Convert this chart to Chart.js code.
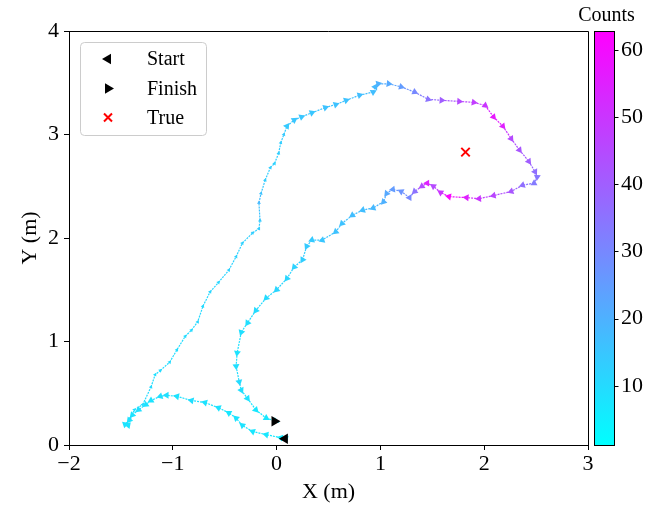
<!DOCTYPE html>
<html>
<head>
<meta charset="utf-8">
<script src="https://cdn.jsdelivr.net/npm/chart.js@4.4.0/dist/chart.umd.min.js"></script>
<style>
  html, body { margin: 0; padding: 0; background: #fff; }
  canvas { display: block; }
</style>
</head>
<body>
<canvas id="trackChart" width="651" height="505"></canvas>
<script>
// Walked track (metres) and the count recorded at each sample
const pathX = [0.09, 0.04, -0.10, -0.23, -0.33, -0.39, -0.46, -0.56, -0.69, -0.82,
  -0.96, -1.06, -1.12, -1.21, -1.26, -1.33, -1.39, -1.42, -1.46, -1.43,
  -1.41, -1.37, -1.29, -1.21, -1.17, -1.12, -1.03, -0.96, -0.88, -0.82,
  -0.76, -0.71, -0.64, -0.56, -0.46, -0.39, -0.33, -0.23, -0.17, -0.16,
  -0.17, -0.15, -0.11, -0.06, -0.02, 0.02, 0.04, 0.07, 0.10, 0.17,
  0.24, 0.34, 0.47, 0.57, 0.67, 0.80, 0.93, 0.95, 0.98, 1.08,
  1.20, 1.33, 1.46, 1.59, 1.76, 1.90, 2.01, 2.09, 2.18, 2.26,
  2.34, 2.43, 2.49, 2.51, 2.48, 2.37, 2.26, 2.09, 1.95, 1.83,
  1.66, 1.58, 1.51, 1.45, 1.40, 1.33, 1.28, 1.20, 1.12, 1.06,
  1.03, 0.93, 0.83, 0.73, 0.63, 0.57, 0.44, 0.34, 0.29, 0.25,
  0.17, 0.10, 0.00, -0.10, -0.20, -0.28, -0.34, -0.38, -0.39, -0.36,
  -0.34, -0.28, -0.20, -0.10, -0.01];
const pathY = [0.06, 0.07, 0.10, 0.13, 0.19, 0.26, 0.31, 0.36, 0.41, 0.43,
  0.47, 0.48, 0.47, 0.43, 0.39, 0.34, 0.29, 0.24, 0.20, 0.19,
  0.26, 0.34, 0.39, 0.56, 0.68, 0.72, 0.80, 0.92, 1.05, 1.11,
  1.19, 1.34, 1.48, 1.57, 1.69, 1.82, 1.95, 2.05, 2.09, 2.17,
  2.34, 2.43, 2.56, 2.68, 2.72, 2.82, 2.92, 3.00, 3.08, 3.14,
  3.17, 3.21, 3.26, 3.29, 3.33, 3.38, 3.41, 3.46, 3.49, 3.49,
  3.46, 3.41, 3.34, 3.33, 3.32, 3.31, 3.28, 3.17, 3.08, 2.96,
  2.85, 2.74, 2.64, 2.59, 2.53, 2.51, 2.45, 2.41, 2.38, 2.39,
  2.40, 2.44, 2.50, 2.53, 2.50, 2.45, 2.39, 2.45, 2.47, 2.43,
  2.35, 2.29, 2.27, 2.22, 2.14, 2.06, 1.98, 1.98, 1.92, 1.79,
  1.72, 1.61, 1.50, 1.42, 1.30, 1.18, 1.09, 0.89, 0.76, 0.61,
  0.53, 0.45, 0.34, 0.26, 0.23];
const pathCounts = [6, 6, 7, 7, 8, 8, 7, 8, 8, 9,
  8, 9, 9, 8, 8, 9, 8, 8, 8, 8,
  9, 9, 10, 10, 9, 10, 10, 9, 10, 10,
  11, 10, 11, 11, 12, 12, 12, 13, 13, 14,
  18, 16, 13, 13, 12, 13, 13, 14, 14, 15,
  15, 15, 16, 16, 16, 17, 17, 18, 20, 22,
  25, 30, 35, 40, 45, 48, 50, 57, 55, 45,
  42, 40, 36, 34, 33, 36, 42, 46, 50, 55,
  62, 50, 45, 55, 45, 35, 30, 27, 25, 22,
  20, 18, 17, 17, 16, 16, 15, 14, 14, 13,
  12, 11, 11, 10, 10, 9, 9, 8, 9, 10,
  9, 8, 7, 7, 6];

const startPoint = { x: 0.08, y: 0.06 };
const finishPoint = { x: -0.02, y: 0.23 };
const truePoint = { x: 1.82, y: 2.83 };

const xTicks = [-2, -1, 0, 1, 2, 3];
const yTicks = [0, 1, 2, 3, 4];
const countTicks = [10, 20, 30, 40, 50, 60];
const countMin = 1.2;
const countMax = 62.8;

const serif = "'Liberation Serif', 'Times New Roman', serif";

// matplotlib "cool" colormap: cyan -> magenta
function coolColor(v) {
  let t = (v - countMin) / (countMax - countMin);
  t = Math.max(0, Math.min(1, t));
  return 'rgb(' + Math.round(255 * t) + ',' + Math.round(255 * (1 - t)) + ',255)';
}

const pathPoints = pathX.map((x, i) => ({ x: x, y: pathY[i] }));

// arrow heading from neighbouring samples
function heading(i) {
  const a = pathPoints[Math.max(0, i - 1)];
  const b = pathPoints[Math.min(pathPoints.length - 1, i + 1)];
  return Math.atan2(b.x - a.x, b.y - a.y) * 180 / Math.PI;
}

const minusSign = v => String(v).replace('-', '\u2212');

function drawTriangle(ctx, x, y, r, rotDeg) {
  let rad = rotDeg * Math.PI / 180;
  ctx.beginPath();
  for (let k = 0; k < 3; k++) {
    const px = x + Math.sin(rad) * r, py = y - Math.cos(rad) * r;
    if (k === 0) ctx.moveTo(px, py); else ctx.lineTo(px, py);
    rad += 2 * Math.PI / 3;
  }
  ctx.closePath();
  ctx.fill();
}

const framePlugin = {
  id: 'frame',
  afterDraw(chart) {
    const { ctx, chartArea } = chart;
    const { left, right, top, bottom } = chartArea;
    ctx.save();
    ctx.strokeStyle = '#000';
    ctx.lineWidth = 1;
    ctx.beginPath();
    ctx.moveTo(left, top + 0.5);
    ctx.lineTo(right + 0.5, top + 0.5);
    ctx.lineTo(right + 0.5, bottom);
    ctx.stroke();

    // colour bar
    const cb = chart.scales.cb;
    const bx = right + 6.5, bw = 20;
    const grad = ctx.createLinearGradient(0, bottom, 0, top);
    grad.addColorStop(0, coolColor(countMin));
    grad.addColorStop(1, coolColor(countMax));
    ctx.fillStyle = grad;
    ctx.fillRect(bx, top + 0.5, bw, bottom - top);
    ctx.strokeRect(bx, top + 0.5, bw, bottom - top);
    ctx.beginPath();
    countTicks.forEach(v => {
      const py = Math.round(cb.getPixelForValue(v)) + 0.5;
      ctx.moveTo(bx + bw, py);
      ctx.lineTo(bx + bw + 4, py);
    });
    ctx.stroke();
    ctx.fillStyle = '#000';
    ctx.font = '20px ' + serif;
    ctx.textAlign = 'center';
    ctx.textBaseline = 'middle';
    ctx.fillText('Counts', bx + bw / 2 + 2, 16);

    // legend
    const lx = 80.5, ly = 42.5, lw = 126, lh = 93, r = 4;
    ctx.beginPath();
    ctx.moveTo(lx + r, ly);
    ctx.arcTo(lx + lw, ly, lx + lw, ly + lh, r);
    ctx.arcTo(lx + lw, ly + lh, lx, ly + lh, r);
    ctx.arcTo(lx, ly + lh, lx, ly, r);
    ctx.arcTo(lx, ly, lx + lw, ly, r);
    ctx.closePath();
    ctx.fillStyle = 'rgba(255,255,255,0.8)';
    ctx.fill();
    ctx.strokeStyle = '#cccccc';
    ctx.stroke();

    const mx = 108;
    ctx.fillStyle = '#000';
    drawTriangle(ctx, mx, 59, 6, -90);
    drawTriangle(ctx, mx, 88.5, 6, 90);
    ctx.strokeStyle = '#ff0000';
    ctx.lineWidth = 2;
    ctx.beginPath();
    ctx.moveTo(mx - 4, 113.5); ctx.lineTo(mx + 4, 121.5);
    ctx.moveTo(mx + 4, 113.5); ctx.lineTo(mx - 4, 121.5);
    ctx.stroke();

    ctx.fillStyle = '#000';
    ctx.textAlign = 'left';
    ctx.fillText('Start', 147, 60);
    ctx.fillText('Finish', 147, 89.5);
    ctx.fillText('True', 147, 118.5);
    ctx.restore();
  }
};

const ctx = document.getElementById('trackChart');
new Chart(ctx, {
  type: 'scatter',
  data: {
    datasets: [
      {
        label: 'Path',
        data: pathPoints,
        showLine: true,
        borderWidth: 1.2,
        borderDash: [2, 1],
        segment: {
          borderColor: c => coolColor((pathCounts[c.p0DataIndex] + pathCounts[c.p1DataIndex]) / 2)
        },
        pointStyle: 'triangle',
        pointRadius: c => (c.dataIndex >= 20 && c.dataIndex <= 47 ? 2.2 : 4),
        pointRotation: c => heading(c.dataIndex),
        pointBackgroundColor: pathCounts.map(coolColor),
        pointBorderWidth: 0,
        order: 3
      },
      {
        label: 'Start',
        data: [startPoint],
        pointStyle: 'triangle',
        pointRotation: -90,
        pointRadius: 6,
        pointBackgroundColor: '#000',
        pointBorderWidth: 0,
        clip: false,
        order: 1
      },
      {
        label: 'Finish',
        data: [finishPoint],
        pointStyle: 'triangle',
        pointRotation: 90,
        pointRadius: 6,
        pointBackgroundColor: '#000',
        pointBorderWidth: 0,
        clip: false,
        order: 1
      },
      {
        label: 'True',
        data: [truePoint],
        pointStyle: 'crossRot',
        pointRadius: 6,
        pointBorderColor: '#ff0000',
        pointBorderWidth: 2,
        order: 1
      }
    ]
  },
  options: {
    responsive: false,
    animation: false,
    events: [],
    layout: { padding: { top: 31, left: 0, right: 0, bottom: 0 } },
    plugins: { legend: { display: false }, tooltip: { enabled: false } },
    scales: {
      x: {
        type: 'linear', position: 'bottom', min: -2, max: 3,
        afterBuildTicks: s => { s.ticks = xTicks.map(v => ({ value: v })); },
        afterFit: s => { s.height = 60; },
        grid: { drawOnChartArea: false, drawTicks: true, tickLength: 5, color: '#000' },
        border: { color: '#000', width: 1 },
        ticks: { color: '#000', font: { family: serif, size: 22 }, padding: 1, maxRotation: 0, callback: minusSign },
        title: { display: true, text: 'X (m)', color: '#000', font: { family: serif, size: 22 }, padding: { top: 0, bottom: 0 } }
      },
      y: {
        type: 'linear', position: 'left', min: 0, max: 4,
        afterBuildTicks: s => { s.ticks = yTicks.map(v => ({ value: v })); },
        afterFit: s => { s.width = 69; },
        grid: { drawOnChartArea: false, drawTicks: true, tickLength: 5, color: '#000' },
        border: { color: '#000', width: 1 },
        ticks: { color: '#000', font: { family: serif, size: 22 }, padding: 5, callback: minusSign },
        title: { display: true, text: 'Y (m)', color: '#000', font: { family: serif, size: 22 }, padding: { top: 17, bottom: 0 } }
      },
      cb: {
        type: 'linear', position: 'right', min: countMin, max: countMax,
        afterBuildTicks: s => { s.ticks = countTicks.map(v => ({ value: v })); },
        afterFit: s => { s.width = 63; s.paddingTop = 0; s.paddingBottom = 0; },
        grid: { display: false, drawTicks: false, drawOnChartArea: false },
        border: { display: false },
        ticks: { color: '#000', font: { family: serif, size: 22 }, padding: 33 }
      }
    }
  },
  plugins: [framePlugin]
});
</script>
</body>
</html>
